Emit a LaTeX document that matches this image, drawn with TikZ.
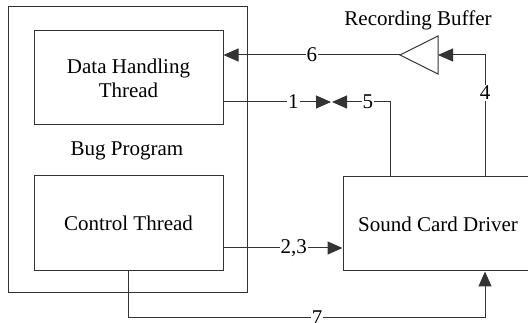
\documentclass[tikz,border=0pt]{standalone}
\usepackage{fontspec}
\setmainfont{Liberation Serif}
\usetikzlibrary{arrows.meta,calc}
\tikzset{headtip/.tip={Triangle[length=15pt,width=13pt]}}
\begin{document}
\begin{tikzpicture}[x=1pt,y=-1pt,
  every node/.style={font=\fontsize{21}{24}\selectfont},
  box/.style={draw=black!80,line width=1pt,rectangle,inner sep=0pt,align=center},
  lnk/.style={draw=black!80,line width=1pt},
  arr/.style={lnk,-headtip},
  lbl/.style={fill=white,inner sep=1pt}]
\useasboundingbox (0,0) rectangle (528,323);
\node[box,minimum width=239pt,minimum height=286pt] (bug) at (127.5,150) {};
\node[box,minimum width=189pt,minimum height=94pt] (dht) at (128.5,78) {Data Handling\\Thread};
\node (buglbl) at (127,151) {Bug Program};
\node[box,minimum width=189pt,minimum height=95pt] (ct) at (128.5,223.5) {Control Thread};
\node[box,minimum width=190pt,minimum height=94pt] (scd) at (438,224) {Sound Card Driver};
\coordinate (buftip) at (400,55);
\coordinate (bufbase) at (438,55);
\draw[lnk] (buftip) -- (438,36) -- (438,74) -- cycle;
\node (buflbl) at (418,20) {Recording Buffer};
\coordinate (p4) at (485,0);
\coordinate (p5) at (390,0);
\coordinate (p7) at (128,318);
\coordinate (meet1) at (331,102);
\coordinate (meet5) at (332,102);
\draw[arr] (buftip) -- node[lbl,pos=0.5]{6} (buftip -| dht.east);
\draw[arr] (scd.north -| p4) -- node[lbl,pos=0.69]{4} (p4 |- bufbase) -- (bufbase);
\draw[arr] (dht.east |- meet1) -- node[lbl,pos=0.65]{1} (meet1);
\draw[arr] (scd.north -| p5) -- (p5 |- meet5) -- node[lbl,pos=0.38]{5} (meet5);
\draw[arr] (ct.east |- 0,248) -- node[lbl,pos=0.59]{2,3} (scd.west |- 0,248);
\draw[arr] (ct.south -| p7) -- (p7) -- node[lbl,pos=0.53]{7} (p7 -| p4) -- (scd.south -| p4);
\end{tikzpicture}
\end{document}
